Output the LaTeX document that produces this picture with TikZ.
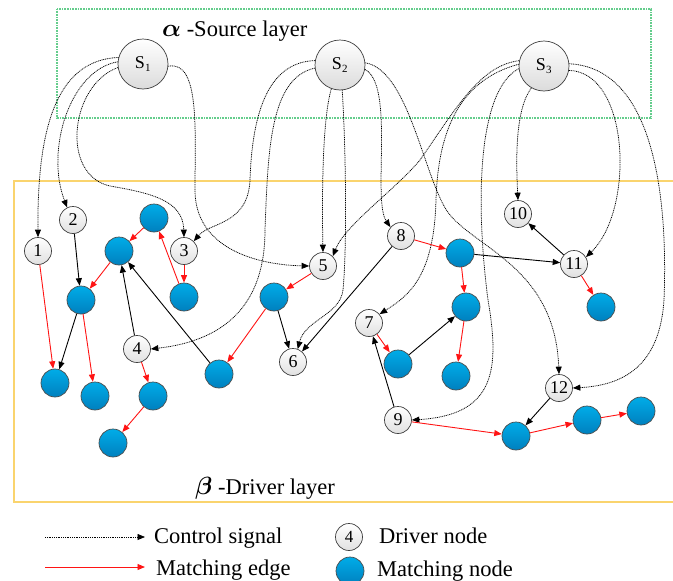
\documentclass[tikz,border=0pt]{standalone}
\usepackage{fontspec}
\usepackage{bm}
\setmainfont{Liberation Serif}
\usetikzlibrary{arrows.meta}
\definecolor{boxgreen}{RGB}{100,205,140}
\definecolor{boxyellow}{RGB}{250,212,110}
\definecolor{bluetop}{RGB}{0,172,232}
\definecolor{bluebot}{RGB}{0,128,190}
\definecolor{edgered}{RGB}{255,20,20}
\tikzset{
  tip/.style={-{Triangle[length=7.5pt,width=6pt]}},
  drv/.style={circle,draw=black!75,line width=0.7pt,top color=white,bottom color=black!12,minimum size=27pt,inner sep=0pt,font=\fontsize{18}{18}\selectfont},
  src/.style={circle,draw=black!75,line width=0.7pt,top color=white,bottom color=black!14,minimum size=50pt,inner sep=0pt,font=\fontsize{18}{18}\selectfont},
  mat/.style={circle,draw=black!70,line width=0.7pt,top color=bluetop,bottom color=bluebot,minimum size=28pt,inner sep=0pt},
  ctrl/.style={tip,dash pattern=on 1pt off 0.8pt,line width=0.75pt},
  medge/.style={tip,edgered,line width=0.9pt},
  bedge/.style={tip,black,line width=0.9pt},
  lbl/.style={font=\fontsize{22.5}{24}\selectfont,inner sep=0pt}
}
\begin{document}
\begin{tikzpicture}[x=1pt,y=-1pt]
\useasboundingbox (0,0) rectangle (673,581);
% layer boxes
\draw[boxgreen,line width=1.4pt,dash pattern=on 1pt off 0.6pt] (57,9) rectangle (651,118);
\draw[boxyellow,line width=1.6pt] (680,181) -- (14,181) -- (14,502) -- (680,502);
\node[lbl,anchor=west] (alab) at (162,31) {{\fontsize{28}{28}\selectfont$\bm{\alpha}$} -Source layer};
\node[lbl,anchor=west] (blab) at (195,488) {{\fontsize{28}{28}\selectfont$\bm{\beta}$} -Driver layer};
% source nodes
\node[src] (S1) at (143,64) {S\textsubscript{\fontsize{11}{11}\selectfont 1}};
\node[src] (S2) at (340,65) {S\textsubscript{\fontsize{11}{11}\selectfont 2}};
\node[src] (S3) at (544,66) {S\textsubscript{\fontsize{11}{11}\selectfont 3}};
% driver nodes
\node[drv] (d1) at (38,251) {1};
\node[drv] (d2) at (73,220) {2};
\node[drv] (d3) at (184,251) {3};
\node[drv] (d4) at (137,349) {4};
\node[drv] (d5) at (323,266) {5};
\node[drv] (d6) at (293,362) {6};
\node[drv] (d7) at (369,323) {7};
\node[drv] (d8) at (401,236) {8};
\node[drv] (d9) at (398,420) {9};
\node[drv] (d10) at (518,214) {10};
\node[drv] (d11) at (574,264) {11};
\node[drv] (d12) at (559,388) {12};
% matching nodes
\node[mat] (mA) at (154,218) {};
\node[mat] (mB) at (119,251) {};
\node[mat] (mC) at (81,300) {};
\node[mat] (mD) at (55,383) {};
\node[mat] (mE) at (95,396) {};
\node[mat] (mF) at (184,297) {};
\node[mat] (mG) at (153,396) {};
\node[mat] (mH) at (113,443) {};
\node[mat] (mI) at (219,374) {};
\node[mat] (mJ) at (274,297) {};
\node[mat] (mK) at (460,253) {};
\node[mat] (mL) at (466,307) {};
\node[mat] (mM) at (398,364) {};
\node[mat] (mN) at (456,376) {};
\node[mat] (mO) at (601,307) {};
\node[mat] (mP) at (516,436) {};
\node[mat] (mQ) at (587,420) {};
\node[mat] (mR) at (641,411) {};
% control signals from S1
\draw[ctrl] (S1.165) .. controls (60,60) and (37,120) .. (d1.north);
\draw[ctrl] (S1.175) .. controls (70,70) and (45,150) .. (d2.115);
\draw[ctrl] (S1.188) .. controls (70,85) and (60,175) .. (110,186) .. controls (150,193) and (183,200) .. (d3.north);
\draw[ctrl] (S1.-5) .. controls (200,60) and (195,130) .. (195,190) .. controls (195,250) and (260,265) .. (d5.west);
% control signals from S2
\draw[ctrl] (S2.170) .. controls (265,62) and (252,120) .. (250,180) .. controls (248,225) and (210,222) .. (d3.north east);
\draw[ctrl] (S2.187) .. controls (270,78) and (268,150) .. (265,230) .. controls (265,300) and (230,340) .. (d4.east);
\draw[ctrl] (S2.250) .. controls (322,120) and (322,200) .. (d5.north);
\draw[ctrl] (S2.275) .. controls (346,150) and (347,250) .. (343,290) .. controls (340,315) and (305,320) .. (d6.70);
\draw[ctrl] (S2.-10) .. controls (395,85) and (372,200) .. (d8.140);
\draw[ctrl] (S2.5) .. controls (410,70) and (425,185) .. (450,215) .. controls (480,250) and (555,270) .. (d12.north);
% control signals from S3
\draw[ctrl] (S3.168) .. controls (480,65) and (455,110) .. (420,160) .. controls (395,190) and (345,225) .. (d5.north east);
\draw[ctrl] (S3.176) .. controls (460,80) and (438,130) .. (436,200) .. controls (434,275) and (410,295) .. (d7.40);
\draw[ctrl] (S3.186) .. controls (478,90) and (475,200) .. (488,300) .. controls (500,370) and (495,415) .. (d9.east);
\draw[ctrl] (S3.240) .. controls (515,110) and (516,160) .. (d10.north);
\draw[ctrl] (S3.-10) .. controls (630,72) and (635,210) .. (d11.30);
\draw[ctrl] (S3.5) .. controls (655,68) and (668,200) .. (664,300) .. controls (660,360) and (630,385) .. (d12.east);
% matching edges (red)
\draw[medge] (d1) -- (mD);
\draw[medge] (mA) -- (mB);
\draw[medge] (mB) -- (mC);
\draw[medge] (mC) -- (mE);
\draw[medge] (mF) -- (mA);
\draw[medge] (d3) -- (mF);
\draw[medge] (d4) -- (mG);
\draw[medge] (mG) -- (mH);
\draw[medge] (d5) -- (mJ);
\draw[medge] (mJ) -- (mI);
\draw[medge] (d8) -- (mK);
\draw[medge] (mK) -- (mL);
\draw[medge] (mL) -- (mN);
\draw[medge] (d7) -- (mM);
\draw[medge] (d11) -- (mO);
\draw[medge] (d9) -- (mP);
\draw[medge] (mP) -- (mQ);
\draw[medge] (mQ) -- (mR);
% other edges (black)
\draw[bedge] (d2) -- (mC);
\draw[bedge] (mC) -- (mD);
\draw[bedge] (d4) -- (mB);
\draw[bedge] (mI) -- (mB);
\draw[bedge] (mJ) -- (d6);
\draw[bedge] (d8) -- (d6);
\draw[bedge] (mK) -- (d11);
\draw[bedge] (d11) -- (d10);
\draw[bedge] (mM) -- (mL);
\draw[bedge] (d9) -- (d7);
\draw[bedge] (d12) -- (mP);
% legend
\coordinate (l1a) at (45,537);
\coordinate (l1b) at (145,537);
\coordinate (l2a) at (45,567);
\coordinate (l2b) at (145,567);
\draw[ctrl] (l1a) -- (l1b);
\draw[medge] (l2a) -- (l2b);
\node[lbl,anchor=west] (lt1) at (154,538) {Control signal};
\node[lbl,anchor=west] (lt2) at (156,570) {Matching edge};
\node[drv,font=\fontsize{17}{17}\selectfont] (ld) at (349,537) {4};
\node[mat] (lm) at (350,571) {};
\node[lbl,anchor=west] (lt3) at (379,536) {Driver node};
\node[lbl,anchor=west] (lt4) at (377,571) {Matching node};
\end{tikzpicture}
\end{document}
